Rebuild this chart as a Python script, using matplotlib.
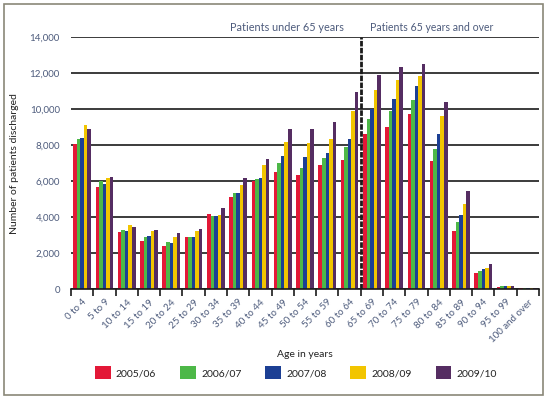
import numpy as np
import matplotlib.pyplot as plt
from matplotlib.patches import Patch, Rectangle

# ---- data ----
age_groups = ['0 to 4', '5 to 9', '10 to 14', '15 to 19', '20 to 24', '25 to 29',
              '30 to 34', '35 to 39', '40 to 44', '45 to 49', '50 to 54', '55 to 59',
              '60 to 64', '65 to 69', '70 to 74', '75 to 79', '80 to 84', '85 to 89',
              '90 to 94', '95 to 99', '100 and over']
years = ['2005/06', '2006/07', '2007/08', '2008/09', '2009/10']

y2005 = [8070, 5690, 3190, 2690, 2410, 2910, 4190, 5130, 6020, 6520, 6350, 6910,
         7180, 8630, 9020, 9740, 7130, 3240, 910, 130, 75]
y2006 = [8350, 6020, 3300, 2910, 2630, 2910, 4070, 5350, 6130, 7020, 6740, 7300,
         7910, 9460, 9910, 10520, 7800, 3740, 1020, 185, 75]
y2007 = [8410, 5850, 3240, 2960, 2570, 2910, 4070, 5350, 6190, 7410, 7350, 7570,
         8350, 10000, 10570, 11300, 8630, 4130, 1130, 185, 75]
y2008 = [9130, 6190, 3570, 3240, 2910, 3240, 4130, 5800, 6910, 8190, 8130, 8350,
         9910, 11070, 11630, 11850, 9630, 4740, 1190, 185, 75]
y2009 = [8910, 6240, 3460, 3300, 3130, 3350, 4520, 6190, 7240, 8910, 8910, 9300,
         10960, 11910, 12350, 12520, 10410, 5460, 1410, 185, 75]
series = [y2005, y2006, y2007, y2008, y2009]

colors = ['#e31837', '#4db848', '#1c3f94', '#f2c500', '#552d62']
tick_col = '#4d5b7c'

plt.rcParams['font.family'] = ['Lato', 'DejaVu Sans']

fig = plt.figure(figsize=(5.47, 3.99), dpi=100)
ax = fig.add_axes([71 / 547, 1 - 289.3 / 399, 468 / 547, 252 / 399])

x = np.arange(len(age_groups)) + 0.5
w = 0.16
for j, vals in enumerate(series):
    ax.bar(x + (j - 2) * w, vals, width=w, color=colors[j], zorder=3, linewidth=0)

ax.set_xlim(0, len(age_groups))
ax.set_ylim(0, 14000)
ax.set_yticks(np.arange(0, 14001, 2000))
ax.set_yticklabels([f'{v:,}' for v in range(0, 14001, 2000)], color=tick_col, fontsize=7)
ax.yaxis.grid(True, color='#1a1a1a', linewidth=1.2, zorder=1)
ax.set_axisbelow(True)
ax.tick_params(axis='y', length=0, pad=8)

ax.set_xticks(x)
ax.set_xticklabels(age_groups, rotation=45, ha='right', va='top',
                   rotation_mode='anchor', color=tick_col, fontsize=7)
ax.set_xticks(np.arange(0, len(age_groups) + 1), minor=True)
ax.tick_params(axis='x', which='major', length=0, pad=6)
ax.tick_params(axis='x', which='minor', length=5, width=1.2, color='#1a1a1a')

for s in ['top', 'right', 'left']:
    ax.spines[s].set_visible(False)
ax.spines['bottom'].set_color('#1a1a1a')
ax.spines['bottom'].set_linewidth(1.2)
ax.spines['bottom'].set_zorder(4)

# split between age bands
ax.axvline(13, color='#1a1a1a', linewidth=2, linestyle=(0, (2, 0.5)), zorder=5)
ax.text(12.25, 14250, 'Patients under 65 years', ha='right', va='bottom',
        color=tick_col, fontsize=7.8)
ax.text(13.4, 14250, 'Patients 65 years and over', ha='left', va='bottom',
        color=tick_col, fontsize=7.6)

ax.set_xlabel('Age in years', fontsize=7.5, color='#222222', labelpad=4)
ax.set_ylabel('Number of patients discharged', fontsize=7.5, color='#222222',
              labelpad=8)

handles = [Patch(facecolor=c, edgecolor='none') for c in colors]
fig.legend(handles, years, loc='center', bbox_to_anchor=(0.541, 0.066), ncol=5,
           frameon=False, fontsize=7.5, handlelength=1.5, handleheight=1.5,
           handletextpad=0.5, columnspacing=2.3, labelcolor='#222222')

fig.add_artist(Rectangle((3.5 / 547, 4.5 / 399), 539.5 / 547, 390.5 / 399,
                         transform=fig.transFigure, fill=False,
                         edgecolor='#8a8778', linewidth=1.2))

fig.savefig('out.png', dpi=100)
